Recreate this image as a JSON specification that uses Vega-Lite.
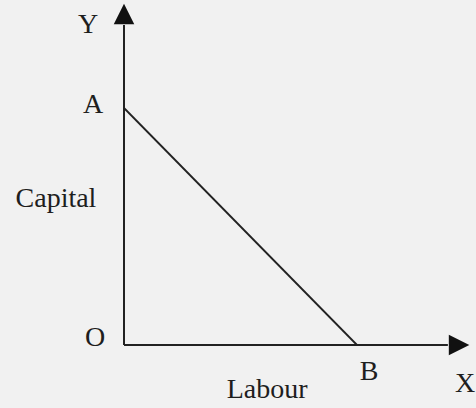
{
  "$schema": "https://vega.github.io/schema/vega-lite/v6.json",
  "width": 476,
  "height": 408,
  "autosize": {"type": "fit", "contains": "padding"},
  "padding": 0,
  "background": "#f1f1f1",
  "config": {"view": {"stroke": null}},
  "layer": [
    {
      "data": {"values": [
        {"axis": "Capital", "x": 0, "y": 0, "x2": 0, "y2": 13.5},
        {"axis": "Labour", "x": 0, "y": 0, "x2": 13.9, "y2": 0}
      ]},
      "mark": {"type": "rule", "color": "#222222", "strokeWidth": 2},
      "encoding": {
        "x": {"field": "x", "type": "quantitative", "scale": {"domain": [-5.322, 15.107], "nice": false, "zero": false}, "axis": null},
        "y": {"field": "y", "type": "quantitative", "scale": {"domain": [-2.658, 14.557], "nice": false, "zero": false}, "axis": null},
        "x2": {"field": "x2"},
        "y2": {"field": "y2"}
      }
    },
    {
      "data": {"values": [
        {"point": "A", "x": 0, "y": 10},
        {"point": "B", "x": 10, "y": 0}
      ]},
      "mark": {"type": "line", "color": "#222222", "strokeWidth": 1.8},
      "encoding": {
        "x": {"field": "x", "type": "quantitative", "axis": null},
        "y": {"field": "y", "type": "quantitative", "axis": null}
      }
    },
    {
      "data": {"values": [
        {"dir": "up", "x": 0, "y": 13.97},
        {"dir": "right", "x": 14.38, "y": 0}
      ]},
      "mark": {"type": "point", "filled": true, "color": "#111111", "opacity": 1, "size": 420, "strokeWidth": 0},
      "encoding": {
        "x": {"field": "x", "type": "quantitative", "axis": null},
        "y": {"field": "y", "type": "quantitative", "axis": null},
        "shape": {"field": "dir", "type": "nominal", "scale": {"domain": ["up", "right"], "range": ["M0,-1L-1,1L1,1Z", "M1,0L-1,-1L-1,1Z"]}, "legend": null}
      }
    },
    {
      "data": {"values": [
        {"label": "Y", "x": -1.545, "y": 13.5},
        {"label": "A", "x": -1.33, "y": 10.13},
        {"label": "O", "x": -1.245, "y": 0.295},
        {"label": "B", "x": 10.52, "y": -1.14},
        {"label": "X", "x": 14.64, "y": -1.65},
        {"label": "Capital", "x": -2.92, "y": 6.16},
        {"label": "Labour", "x": 6.14, "y": -1.9}
      ]},
      "mark": {"type": "text", "font": "Liberation Serif", "fontSize": 28, "color": "#1e1e1e", "align": "center", "baseline": "middle"},
      "encoding": {
        "x": {"field": "x", "type": "quantitative", "axis": null},
        "y": {"field": "y", "type": "quantitative", "axis": null},
        "text": {"field": "label", "type": "nominal"}
      }
    }
  ]
}
